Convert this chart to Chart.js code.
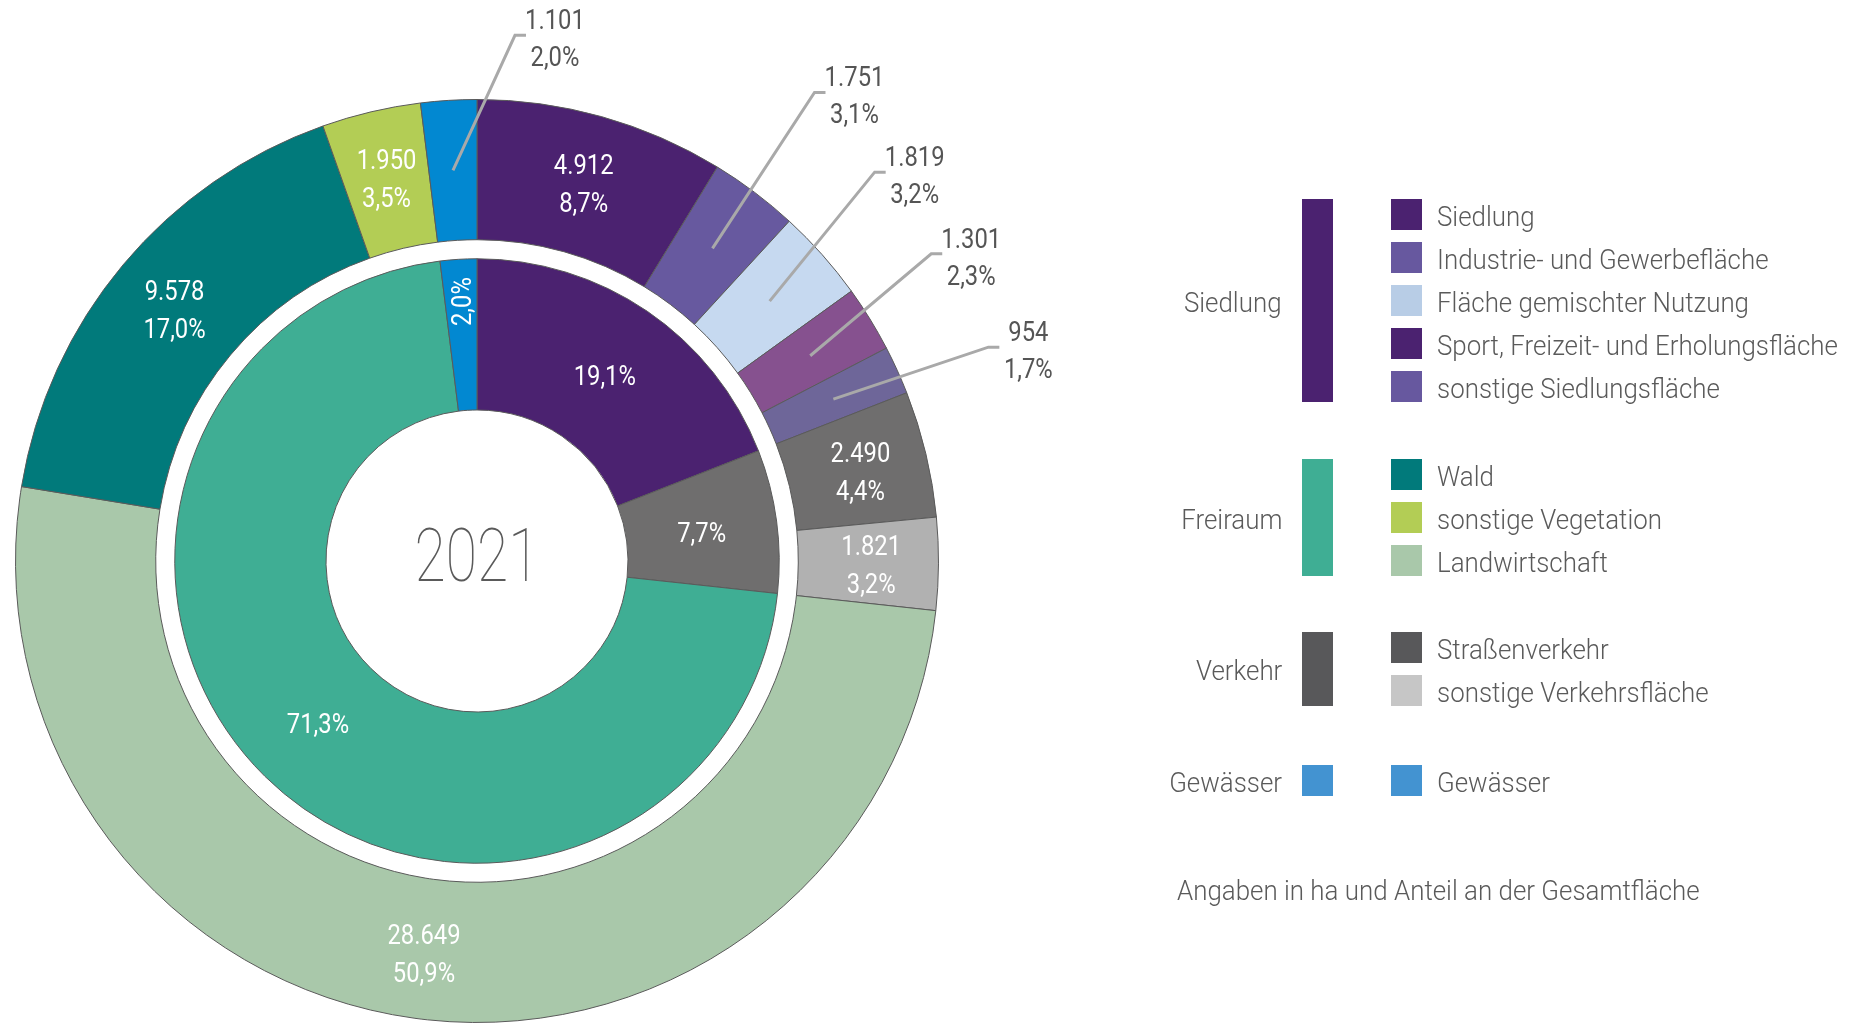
<!DOCTYPE html>
<html><head><meta charset="utf-8">
<script src="https://cdn.jsdelivr.net/npm/chart.js@4/dist/chart.umd.min.js"></script>
<style>
html,body{margin:0;padding:0;background:#fff;width:1863px;height:1024px;overflow:hidden;}
#wrap{position:relative;width:1863px;height:1024px;}
canvas{position:absolute;left:0;top:0;}
.t{position:absolute;font-family:Roboto,"Noto Sans",sans-serif;font-weight:300;font-size:28px;color:#5a5a5a;line-height:36px;height:36px;white-space:nowrap;}
.t span{display:inline-block;transform:scaleX(0.925);transform-origin:0 50%;}
.t.r span{transform-origin:100% 50%;}
.sw{position:absolute;}
</style></head><body><div id="wrap"><canvas id="c" width="1863" height="1024"></canvas><div id="legend"></div></div>
<script>
// ---- data ----
const categories = ['Siedlung','Industrie- und Gewerbefläche','Fläche gemischter Nutzung','Sport, Freizeit- und Erholungsfläche','sonstige Siedlungsfläche','Straßenverkehr','sonstige Verkehrsfläche','Landwirtschaft','Wald','sonstige Vegetation','Gewässer'];
const areaHa = [4912,1751,1819,1301,954,2490,1821,28649,9578,1950,1101];
const groupNames = ['Siedlung','Verkehr','Freiraum','Gewässer'];
const groupHa = [10737,4311,40177,1101];
const centerLabel = '2021';
const footnote = 'Angaben in ha und Anteil an der Gesamtfläche';
const legendGroups = ['Siedlung','Freiraum','Verkehr','Gewässer'];
const legendSiedlung = ['Siedlung','Industrie- und Gewerbefläche','Fläche gemischter Nutzung','Sport, Freizeit- und Erholungsfläche','sonstige Siedlungsfläche'];
const legendFreiraum = ['Wald','sonstige Vegetation','Landwirtschaft'];
const legendVerkehr = ['Straßenverkehr','sonstige Verkehrsfläche'];
const legendGewaesser = ['Gewässer'];

// ---- styles ----
const outerColors = ['#4b2270','#67599f','#c6d9f0','#86518f','#6e6699','#6f6e6e','#b1b1b1','#a9c8aa','#017a7b','#b3cd55','#0288d1'];
const innerColors = ['#4b2270','#6f6e6e','#3fae94','#0288d1'];
const legendGroupColors = ['#4b2270','#3fae94','#58585a','#4393d1'];
const legendItemColors = [['#4b2270','#67589f','#b8cde6','#4b2270','#67589f'],['#017a7b','#b3cd55','#a9c8aa'],['#58585a','#c6c6c6'],['#4393d1']];

function fmtInt(n){ return String(n).replace(/\B(?=(\d{3})+(?!\d))/g,'.'); }
function fmtPct(v,total){ return (Math.round(v/total*1000)/10).toFixed(1).replace('.',',')+'%'; }

const ringLabels = {
  id:'ringLabels',
  afterDatasetsDraw(chart, args, opts){
    const ctx = chart.ctx;
    const txt = (s,x,y,color,size,weight,sq,rot)=>{
      ctx.save(); ctx.translate(x,y); if(rot) ctx.rotate(rot); ctx.scale(sq,1);
      ctx.font = weight+' '+size+'px Roboto, "Noto Sans", sans-serif';
      ctx.fillStyle=color; ctx.textAlign='center'; ctx.textBaseline='middle';
      ctx.fillText(s,0,0); ctx.restore();
    };
    const mid = (arc,f)=>{
      const p = arc.getProps(['x','y','startAngle','endAngle','innerRadius','outerRadius'],true);
      const a=(p.startAngle+p.endAngle)/2, r=p.innerRadius+(p.outerRadius-p.innerRadius)*f;
      return {x:p.x+Math.cos(a)*r, y:p.y+Math.sin(a)*r, cx:p.x, cy:p.y};
    };
    const dy = opts.yShift;
    // outer ring
    const mo = chart.getDatasetMeta(0);
    const dOut = chart.data.datasets[0].data;
    mo.data.forEach((arc,i)=>{
      const m = mid(arc,0.52);
      const l1 = fmtInt(dOut[i]), l2 = fmtPct(dOut[i], mo.total);
      const co = opts.callouts[i];
      if(co){
        const a = mid(arc,0.5);
        const ex=a.x+co[0], ey=a.y+co[1];
        ctx.save(); ctx.strokeStyle=opts.lineColor; ctx.lineWidth=3; ctx.lineJoin='miter';
        ctx.beginPath(); ctx.moveTo(a.x,a.y); ctx.lineTo(ex,ey); ctx.lineTo(ex+opts.elbowLen,ey); ctx.stroke(); ctx.restore();
        txt(l1, ex+opts.textDx, ey-17+dy, opts.outsideColor, opts.size, opts.weight, opts.squeeze);
        txt(l2, ex+opts.textDx, ey+20+dy, opts.outsideColor, opts.size, opts.weight, opts.squeeze);
      } else {
        txt(l1, m.x, m.y-19+dy, '#ffffff', opts.size, opts.weight, opts.squeeze);
        txt(l2, m.x, m.y+19+dy, '#ffffff', opts.size, opts.weight, opts.squeeze);
      }
    });
    // inner ring
    const mi = chart.getDatasetMeta(2);
    const dIn = chart.data.datasets[2].data;
    let c = null;
    mi.data.forEach((arc,i)=>{
      const rotated = opts.innerRotated.includes(i);
      const m = mid(arc, rotated ? 0.72 : 0.5);
      c = m;
      txt(fmtPct(dIn[i], mi.total), rotated ? m.x+3 : m.x, rotated ? m.y : m.y+dy, '#ffffff', opts.size, opts.weight, opts.squeeze, rotated ? -Math.PI/2 : 0);
    });
    // center
    txt(centerLabel, c.cx, c.cy+1, '#5a5a5a', 75, 100, 0.76);
  }
};

new Chart(document.getElementById('c'), {
  type:'doughnut',
  data:{
    labels: categories,
    datasets:[
      {label:'Fläche (ha)', data:areaHa, backgroundColor:outerColors, weight:140},
      {label:'', data:[1], backgroundColor:'rgba(0,0,0,0)', borderWidth:0, hoverBorderWidth:0, weight:19},
      {label:'Gruppen', data:groupHa, backgroundColor:innerColors, weight:151}
    ]
  },
  options:{
    responsive:false, animation:false, events:[],
    rotation:0, cutout:'32.72%',
    layout:{padding:{left:15, top:99, right:924, bottom:1}},
    elements:{arc:{borderColor:'#5a5a5a', borderWidth:1, hoverBorderWidth:1, hoverOffset:0, borderAlign:'center'}},
    plugins:{
      legend:{display:false}, tooltip:{enabled:false},
      ringLabels:{
        callouts:{1:[102,-156], 2:[105,-129], 3:[121,-102], 4:[155,-52], 10:[62,-135]},
        innerRotated:[3],
        lineColor:'#a9a9a9', elbowLen:11, textDx:40, yShift:4,
        outsideColor:'#555555', size:28, weight:400, squeeze:0.85
      }
    }
  },
  plugins:[ringLabels]
});

// ---- legend (HTML text) ----
const lg = document.getElementById('legend');
const LG = {groupTop:[199,459,632,765], pitch:43, sq:31, barX:1302, sqX:1391, textX:1437, groupRight:1282, noteX:1177, noteY:889, textShift:2};
const itemsByGroup = [legendSiedlung, legendFreiraum, legendVerkehr, legendGewaesser];
function box(x,y,w,h,color){ const d=document.createElement('div'); d.className='sw'; d.style.cssText='left:'+x+'px;top:'+y+'px;width:'+w+'px;height:'+h+'px;background:'+color; lg.appendChild(d); }
function label(s,x,cy,right){ const d=document.createElement('div'); d.className='t'+(right?' r':''); d.style.top=(cy-18+LG.textShift)+'px'; if(right){ d.style.right=(1863-x)+'px'; d.style.textAlign='right'; } else d.style.left=x+'px'; const sp=document.createElement('span'); sp.textContent=s; d.appendChild(sp); lg.appendChild(d); }
legendGroups.forEach((g,gi)=>{
  const items = itemsByGroup[gi];
  const top = LG.groupTop[gi];
  const h = (items.length-1)*LG.pitch + LG.sq;
  box(LG.barX, top, LG.sq, h, legendGroupColors[gi]);
  label(g, LG.groupRight, top+h/2, true);
  items.forEach((it,ii)=>{
    const y = top + ii*LG.pitch;
    box(LG.sqX, y, LG.sq, LG.sq, legendItemColors[gi][ii]);
    label(it, LG.textX, y+LG.sq/2, false);
  });
});
label(footnote, LG.noteX, LG.noteY, false);
</script></body></html>
